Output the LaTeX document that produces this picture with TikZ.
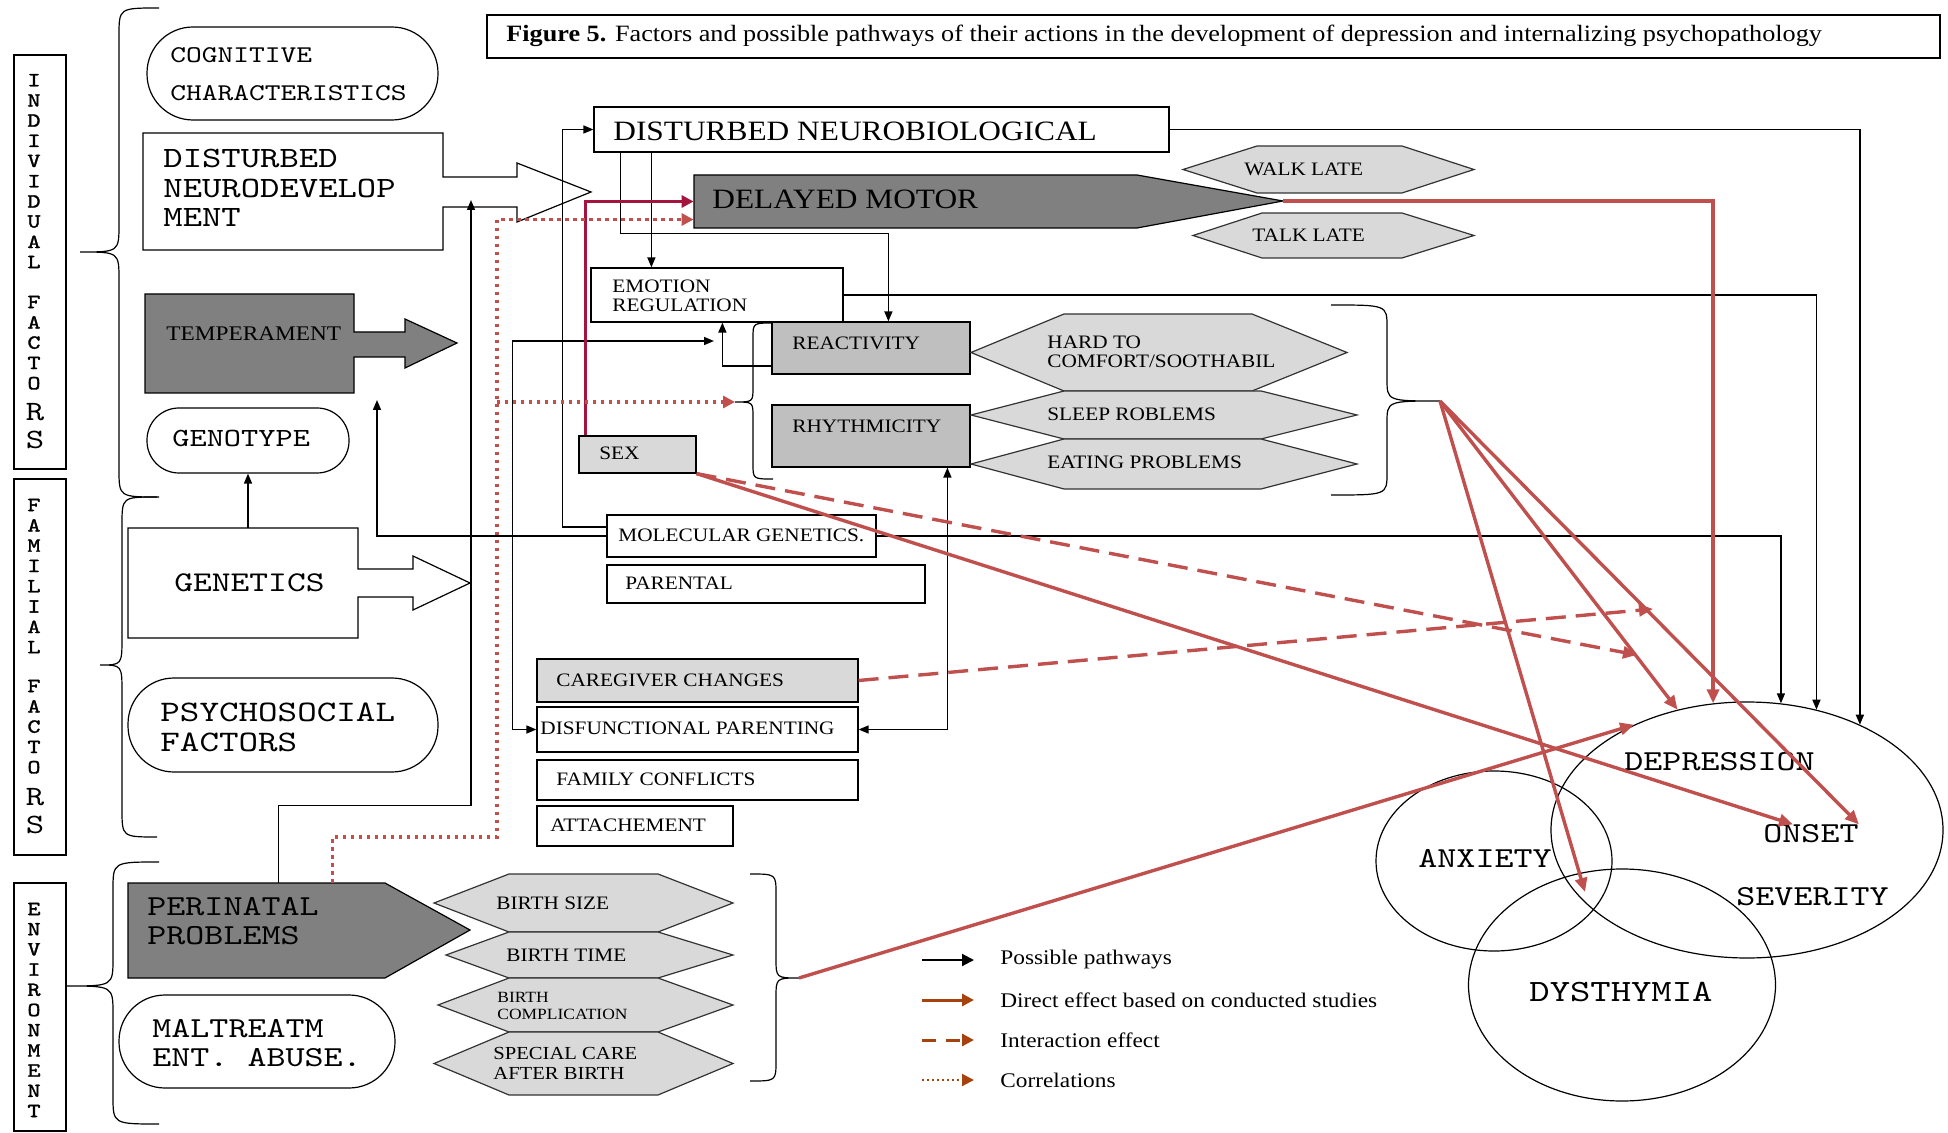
\documentclass[tikz,border=0pt]{standalone}
\usepackage{fontspec}
\setmainfont{Liberation Serif}[FakeStretch=1.12]
\newfontfamily\widetype{lmmono10-regular.otf}[FakeStretch=1.25]
\newfontfamily\widebold{lmmono10-regular.otf}[FakeStretch=1.25, FakeBold=1.5]
\usetikzlibrary{arrows.meta,fit,shapes}
\definecolor{darkfill}{RGB}{128,128,128}
\definecolor{midfill}{RGB}{191,191,191}
\definecolor{lightfill}{RGB}{217,217,217}
\definecolor{redl}{RGB}{192,80,77}
\definecolor{crimson}{RGB}{165,20,62}
\definecolor{legbrown}{RGB}{166,66,14}
\tikzstyle{box}     = [draw, line width=0.6pt, inner sep=0pt]
\tikzstyle{rbox}    = [box, rounded corners=23pt]
\tikzstyle{lbl}     = [inner sep=0pt, anchor=west, align=left]
\tikzstyle{hexa}    = [draw=black!80, line width=0.6pt, fill=lightfill]
\tikzstyle{brc}     = [line width=0.6pt]
\tikzstyle{pathway} = [line width=0.75pt, -{Triangle[length=5pt,width=4pt]}]
\tikzstyle{twoway}  = [line width=0.75pt, {Triangle[length=5pt,width=4pt]}-{Triangle[length=5pt,width=4pt]}]
\tikzstyle{direct}  = [line width=1.7pt, redl, -{Triangle[length=7pt,width=6pt]}]
\tikzstyle{inter}   = [direct, dash pattern=on 10pt off 5pt]
\tikzstyle{corr}    = [line width=1.6pt, redl, dash pattern=on 1.6pt off 2.4pt, -{Triangle[length=6pt,width=6pt]}]
\tikzstyle{sexline} = [line width=1.5pt, crimson, -{Triangle[length=6pt,width=6pt]}]
\tikzstyle{vletter} = [inner sep=0pt, font=\widebold\fontsize{10}{10}\selectfont]
\tikzstyle{bigletter} = [inner sep=0pt, font=\widetype\fontsize{14}{14}\selectfont]
\newcommand{\fsz}[2]{\fontsize{#1}{#2}\selectfont}
% hexagon: left tip, left corner, right corner, right tip, top, bottom
\newcommand{\hexshape}[6]{\draw[hexa] (#1,{(#5+#6)/2}) -- (#2,#5) -- (#3,#5) -- (#4,{(#5+#6)/2}) -- (#3,#6) -- (#2,#6) -- cycle;}
% brace: end x, stem x, tip x, top, tip y, bottom, curl
\newcommand{\brc}[7]{\draw[brc] (#1,#4) .. controls (#2,#4) .. (#2,#4+#7) -- (#2,#5-#7) .. controls (#2,#5) .. (#3,#5) .. controls (#2,#5) .. (#2,#5+#7) -- (#2,#6-#7) .. controls (#2,#6) .. (#1,#6);}

\begin{document}
\begin{tikzpicture}[x=0.5pt,y=-0.5pt]
	\useasboundingbox (0,0) rectangle (1948,1133);
	% caption
	\node[box, fit={(487,15) (1940,58)}] (capbox) {};
	\node[lbl, font=\fsz{11.7}{13}] (caption) at (506,36) {\textbf{Figure 5.} Factors and possible pathways of their actions in the development of depression and internalizing psychopathology};

	% factor columns
	\node[box, fit={(14,55) (66,469)}] (indbox) {};
	\node[box, fit={(14,479) (66,855)}] (fambox) {};
	\node[box, fit={(14,883) (66,1131)}] (envbox) {};
	\foreach \letter [count=\i] in {I,N,D,I,V,I,D,U,A,L}
		\node[vletter] (ind\i) at (34,{60+20.2*\i}) {\letter};
	\foreach \letter [count=\i] in {F,A,C,T,O}
		\node[vletter] (indf\i) at (34,{281.7+20.3*\i}) {\letter};
	\node[bigletter] (indr) at (35,412) {R};
	\node[bigletter] (inds) at (35,440) {S};
	\foreach \letter [count=\i] in {F,A,M,I,L,I,A,L}
		\node[vletter] (fam\i) at (34,{484.7+20.3*\i}) {\letter};
	\foreach \letter [count=\i] in {F,A,C,T,O}
		\node[vletter] (famf\i) at (34,{665.7+20.3*\i}) {\letter};
	\node[bigletter] (famr) at (35,797) {R};
	\node[bigletter] (fams) at (35,825) {S};
	\foreach \letter [count=\i] in {E,N,V,I,R,O,N,M,E,N,T}
		\node[vletter] (env\i) at (34,{888.8+20.2*\i}) {\letter};

	% braces
	\brc{159}{119}{80}{8}{252}{497}{28}
	\brc{157}{122}{100}{497}{665}{837}{28}
	\brc{159}{113}{67}{862}{986}{1124}{28}
	\brc{773}{753}{735}{323}{402}{479}{15}
	\brc{1331}{1387}{1440}{305}{401}{495}{22}
	\brc{750}{776}{799}{874}{978}{1081}{20}

	% individual factors
	\node[rbox, fit={(147,27) (438,120)}] (cognitive) {};
	\node[lbl, font=\widetype\fsz{12}{19}] (cognitive-t) at (170,74) {COGNITIVE\\CHARACTERISTICS};
	\draw[line width=0.6pt, fill=white] (143,133) -- (443,133) -- (443,177) -- (517,177) -- (517,163) -- (591,192) -- (517,222) -- (517,207) -- (443,207) -- (443,250) -- (143,250) -- cycle;
	\node[inner sep=0pt, fit={(143,133) (443,250)}] (neurodev) {};
	\node[lbl, font=\widetype\fsz{14.75}{14.75}] (neurodev-t) at (163,188) {DISTURBED\\NEURODEVELOP\\MENT};
	\draw[line width=0.6pt, fill=darkfill] (145,294) -- (354,294) -- (354,332) -- (405,332) -- (405,319) -- (457,343) -- (405,368) -- (405,357) -- (354,357) -- (354,393) -- (145,393) -- cycle;
	\node[inner sep=0pt, fit={(145,294) (354,393)}] (temperament) {};
	\node[lbl, font=\fsz{10.4}{12}] (temperament-t) at (166,334) {TEMPERAMENT};
	\node[box, rounded corners=16pt, fit={(147,408) (349,473)}] (genotype) {};
	\node[lbl, font=\widetype\fsz{13.1}{13.1}] (genotype-t) at (172,438) {GENOTYPE};

	% familial factors
	\draw[line width=0.6pt, fill=white] (128,528) -- (358,528) -- (358,569) -- (413,569) -- (413,556) -- (470,583) -- (413,610) -- (413,597) -- (358,597) -- (358,638) -- (128,638) -- cycle;
	\node[inner sep=0pt, fit={(128,528) (358,638)}] (genetics) {};
	\node[lbl, font=\widetype\fsz{14.3}{14.3}] (genetics-t) at (174,583) {GENETICS};
	\node[rbox, fit={(128,678) (438,772)}] (psycho) {};
	\node[lbl, font=\widetype\fsz{14.9}{15}] (psycho-t) at (160,727) {PSYCHOSOCIAL\\FACTORS};

	% environment
	\draw[line width=0.6pt, fill=darkfill] (128,883) -- (385,883) -- (470,930) -- (385,978) -- (128,978) -- cycle;
	\node[inner sep=0pt, fit={(128,883) (385,978)}] (perinatal) {};
	\node[lbl, font=\widetype\fsz{14.5}{14.5}] (perinatal-t) at (147,921.5) {PERINATAL\\PROBLEMS};
	\node[rbox, fit={(119,995) (395,1088)}] (maltreat) {};
	\node[lbl, font=\widetype\fsz{14.5}{14.5}] (maltreat-t) at (152,1043.5) {MALTREATM\\ENT. ABUSE.};
	\hexshape{434}{509}{658}{733}{874}{932}
	\hexshape{446}{509}{658}{733}{932}{978}
	\hexshape{438}{509}{658}{733}{978}{1032}
	\hexshape{434}{509}{658}{733}{1032}{1095}
	\node[lbl, font=\fsz{9.5}{10}] (birthsize) at (496,903) {BIRTH SIZE};
	\node[lbl, font=\fsz{9.5}{10}] (birthtime) at (506,955) {BIRTH TIME};
	\node[lbl, font=\fsz{7.8}{8.5}] (birthcomp) at (497,1006) {BIRTH\\COMPLICATION};
	\node[lbl, font=\fsz{9.2}{10}] (specialcare) at (493,1063) {SPECIAL CARE\\AFTER BIRTH};

	% middle column
	\node[box, fit={(594,107) (1169,152)}] (neurobio) {};
	\node[lbl, font=\fsz{14}{14}] (neurobio-t) at (613,131) {DISTURBED NEUROBIOLOGICAL};
	\draw[line width=0.6pt, fill=darkfill] (694,175) -- (1137,175) -- (1283,201) -- (1137,228) -- (694,228) -- cycle;
	\node[inner sep=0pt, fit={(694,175) (1137,228)}] (motor) {};
	\coordinate (motortip) at (1283,201);
	\node[lbl, font=\fsz{14}{14}] (motor-t) at (712,199) {DELAYED MOTOR};
	\hexshape{1183}{1257}{1402}{1474}{146}{193}
	\hexshape{1193}{1262}{1402}{1474}{213}{258}
	\node[lbl, font=\fsz{9.5}{10}] (walklate) at (1244,169) {WALK LATE};
	\node[lbl, font=\fsz{9.5}{10}] (talklate) at (1252,235) {TALK LATE};
	\node[box, fit={(591,268) (843,322)}] (emotion) {};
	\node[lbl, font=\fsz{9.5}{9.5}] (emotion-t) at (612,295.5) {EMOTION\\REGULATION};
	\node[box, fill=midfill, fit={(772,322) (970,374)}] (reactivity) {};
	\node[lbl, font=\fsz{9.5}{10}] (reactivity-t) at (792,343) {REACTIVITY};
	\node[box, fill=midfill, fit={(772,405) (970,467)}] (rhythm) {};
	\node[lbl, font=\fsz{9.5}{10}] (rhythm-t) at (792,426) {RHYTHMICITY};
	\hexshape{971}{1064}{1252}{1347}{314}{391}
	\hexshape{971}{1064}{1261}{1357}{391}{439}
	\hexshape{971}{1064}{1261}{1357}{439}{489}
	\node[lbl, font=\fsz{9.5}{9.5}] (soothe) at (1047,351.5) {HARD TO\\COMFORT/SOOTHABIL};
	\node[lbl, font=\fsz{9.5}{10}] (sleep) at (1047,414) {SLEEP ROBLEMS};
	\node[lbl, font=\fsz{9.5}{10}] (eating) at (1047,462) {EATING PROBLEMS};
	\node[box, fill=lightfill, fit={(579,436) (696,473)}] (sex) {};
	\node[lbl, font=\fsz{9.5}{10}] (sex-t) at (599,453) {SEX};
	\node[box, fit={(607,515) (876,557)}] (molgen) {};
	\node[lbl, font=\fsz{9.5}{10}] (molgen-t) at (618,535.5) {MOLECULAR GENETICS.};
	\node[box, fit={(607,565) (925,603)}] (parental) {};
	\node[lbl, font=\fsz{9.5}{10}] (parental-t) at (625,583) {PARENTAL};
	\node[box, fill=lightfill, fit={(537,659) (858,702)}] (caregiver) {};
	\node[lbl, font=\fsz{9.5}{10}] (caregiver-t) at (556,680) {CAREGIVER CHANGES};
	\node[box, fit={(537,707) (858,752)}] (disfunc) {};
	\node[lbl, font=\fsz{9.5}{10}] (disfunc-t) at (540,728) {DISFUNCTIONAL PARENTING};
	\node[box, fit={(537,760) (858,800)}] (famconf) {};
	\node[lbl, font=\fsz{9.5}{10}] (famconf-t) at (556,779) {FAMILY CONFLICTS};
	\node[box, fit={(537,806) (733,846)}] (attach) {};
	\node[lbl, font=\fsz{9.5}{10}] (attach-t) at (550,825) {ATTACHEMENT};

	% outcomes
	\node[draw, ellipse, line width=0.6pt, inner sep=0pt, minimum width=196pt, minimum height=128pt] (depression) at (1747,830) {};
	\node[draw, ellipse, line width=0.6pt, inner sep=0pt, minimum width=118pt, minimum height=90pt] (anxiety) at (1494,861) {};
	\node[draw, ellipse, line width=0.6pt, inner sep=0pt, minimum width=153.5pt, minimum height=116pt] (dysthymia) at (1622,985) {};
	\node[lbl, font=\widetype\fsz{14.5}{14.5}] (depression-t) at (1624,762) {DEPRESSION};
	\node[lbl, font=\widetype\fsz{14.5}{14.5}] (onset) at (1763,834) {ONSET};
	\node[lbl, font=\widetype\fsz{14.5}{14.5}] (severity) at (1736,897) {SEVERITY};
	\node[lbl, font=\widetype\fsz{14.5}{14.5}] (anxiety-t) at (1418,858) {ANXIETY};
	\node[lbl, font=\widetype\fsz{15.5}{15.5}] (dysthymia-t) at (1529,992) {DYSTHYMIA};

	% possible pathways
	\draw[pathway] (neurobio.east) -| (depression.43.5);
	\draw[pathway] (emotion.east) -| (depression.60.5);
	\draw[pathway] (molgen.east) -| (depression.75.8);
	\draw[pathway] ([yshift=4.5pt]molgen.west) -- ++(-44,0) |- (neurobio.west);
	\coordinate (tempin) at (377,400);
	\draw[pathway] (molgen.west) -| (tempin);
	\draw[pathway] (genetics.north -| genotype.south) -- (genotype.south);
	\coordinate (ndin) at (471,200);
	\draw[pathway] ([xshift=11pt]perinatal.north) -- ++(0,-77) -| (ndin);
	\draw[pathway] ([xshift=29pt]neurobio.south west) -- ([xshift=30.5pt]emotion.north west);
	\draw[pathway] ([xshift=13.5pt]neurobio.south west) -- ++(0,81) -| ([xshift=58.5pt]reactivity.north west);
	\draw[pathway] ([yshift=-9pt]reactivity.west) -| ([xshift=66pt]emotion.south west);
	\coordinate (braceleft) at (714,341);
	\draw[twoway] (disfunc.west) -- ++(-24,0) |- (braceleft);
	\draw[twoway] (disfunc.east) -| ([xshift=88pt]rhythm.south west);

	% direct effects, interactions, correlations
	\coordinate (bigtip) at (1440,401);
	\coordinate (birthtip) at (799,978);
	\coordinate (overlap) at (1585,892);
	\coordinate (inter1) at (1637,655);
	\coordinate (inter2) at (1653,609);
	\draw[direct] (motortip) -| (depression.105);
	\draw[direct] (bigtip) -- (depression.120);
	\draw[direct] (bigtip) -- (onset.north east);
	\draw[direct] (bigtip) -- (overlap);
	\draw[direct] (sex.south east) -- ([xshift=15pt]onset.north west);
	\draw[direct] (birthtip) -- (depression.137);
	\draw[inter] (sex.south east) -- (inter1);
	\draw[inter] (caregiver.east) -- (inter2);
	\draw[sexline] ([xshift=3.5pt]sex.north west) |- (motor.west);
	\coordinate (corrbend) at (497,837);
	\coordinate (rrtip) at (735,402);
	\draw[corr] ([xshift=38pt]perinatal.north) |- (corrbend) |- ([yshift=-9pt]motor.west);
	\draw[corr] (rrtip -| corrbend) -- (rrtip);

	% legend
	\node[lbl, font=\fsz{10.4}{12}] (leg1) at (1000,960) {Possible pathways};
	\node[lbl, font=\fsz{10.4}{12}] (leg2) at (1000,1000) {Direct effect based on conducted studies};
	\node[lbl, font=\fsz{10.4}{12}] (leg3) at (1000,1040) {Interaction effect};
	\node[lbl, font=\fsz{10.4}{12}] (leg4) at (1000,1080) {Correlations};
	\draw[line width=1pt, -{Triangle[length=6pt,width=6pt]}] ([xshift=-39pt]leg1.west) -- ([xshift=-13pt]leg1.west);
	\draw[line width=1.5pt, legbrown, -{Triangle[length=6pt,width=6pt]}] ([xshift=-39pt]leg2.west) -- ([xshift=-13pt]leg2.west);
	\draw[line width=1.5pt, legbrown, dash pattern=on 7pt off 5pt, -{Triangle[length=6pt,width=6pt]}] ([xshift=-39pt]leg3.west) -- ([xshift=-13pt]leg3.west);
	\draw[line width=1pt, legbrown, dash pattern=on 1pt off 1.5pt, -{Triangle[length=6pt,width=6pt]}] ([xshift=-39pt]leg4.west) -- ([xshift=-13pt]leg4.west);
\end{tikzpicture}
\end{document}
